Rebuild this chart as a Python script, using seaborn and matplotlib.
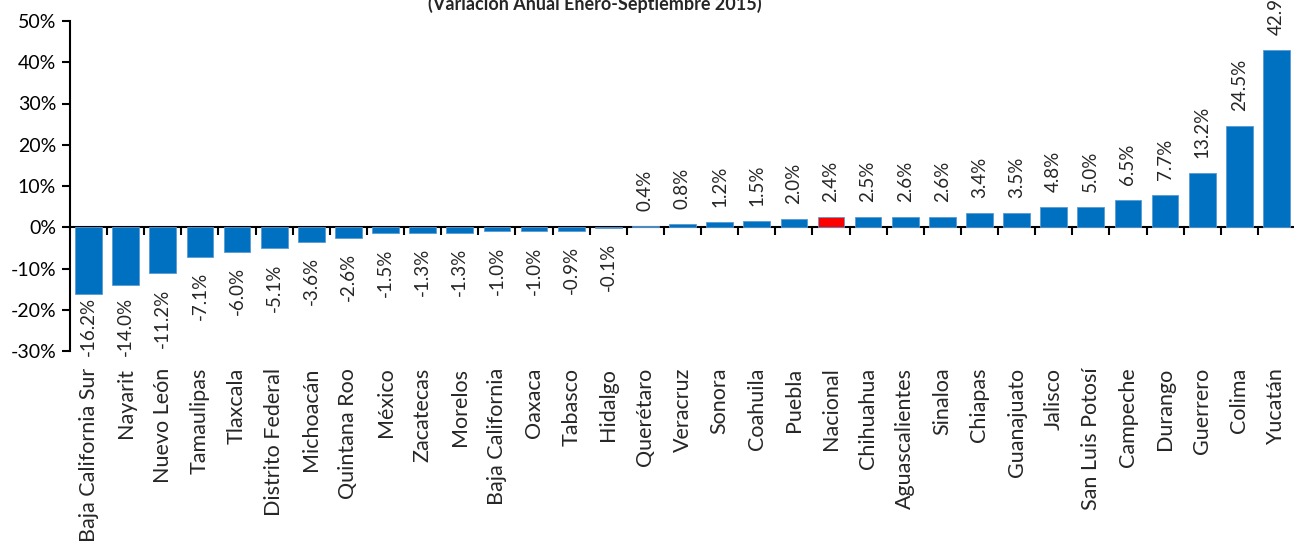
import numpy as np
import pandas as pd
import matplotlib
matplotlib.use("Agg")
import matplotlib.pyplot as plt
import seaborn as sns

# Datos: variación anual de la actividad industrial por entidad (%)
estados = ["Baja California Sur", "Nayarit", "Nuevo León", "Tamaulipas", "Tlaxcala",
           "Distrito Federal", "Michoacán", "Quintana Roo", "México", "Zacatecas",
           "Morelos", "Baja California", "Oaxaca", "Tabasco", "Hidalgo", "Querétaro",
           "Veracruz", "Sonora", "Coahuila", "Puebla", "Nacional", "Chihuahua",
           "Aguascalientes", "Sinaloa", "Chiapas", "Guanajuato", "Jalisco",
           "San Luis Potosí", "Campeche", "Durango", "Guerrero", "Colima", "Yucatán"]
variacion = [-16.2, -14.0, -11.2, -7.1, -6.0, -5.1, -3.6, -2.6, -1.5, -1.3,
             -1.3, -1.0, -1.0, -0.9, -0.1, 0.4, 0.8, 1.2, 1.5, 2.0, 2.4, 2.5,
             2.6, 2.6, 3.4, 3.5, 4.8, 5.0, 6.5, 7.7, 13.2, 24.5, 42.9]
titulo = "(Variación Anual Enero-Septiembre 2015)"
y_ticks = [-30, -20, -10, 0, 10, 20, 30, 40, 50]

AZUL = "#0070C0"
ROJO = "#FF0000"

sns.set_style("white")
plt.rcParams["font.family"] = ["Lato", "DejaVu Sans"]

df = pd.DataFrame({"estado": estados, "var": variacion})
colores = {e: (ROJO if e == "Nacional" else AZUL) for e in estados}

fig = plt.figure(figsize=(12.94, 5.48), dpi=100)
ax = fig.add_axes([70 / 1294, 197 / 548, 1225 / 1294, 330 / 548])

sns.barplot(data=df, x="estado", y="var", hue="estado", palette=colores,
            width=0.72, edgecolor="#5B9BD5", linewidth=0.6, legend=False,
            saturation=1, ax=ax)

ymin, ymax = y_ticks[0], y_ticks[-1]
ax.set_ylim(ymin, ymax)
ax.set_xlim(-0.5, len(estados) - 0.5)
ax.set_yticks(y_ticks)
ax.set_yticklabels([f"{t}%" for t in y_ticks], fontsize=14, color="#000000")
ax.tick_params(axis="y", direction="out", length=6, width=1.5, color="black", pad=4, left=True)

# etiquetas de categoría abajo, sin marca
ax.set_xticks(range(len(estados)))
ax.set_xticklabels(estados, rotation=90, fontsize=15.5, va="top")
ax.tick_params(axis="x", length=0, pad=12)
ax.set_xlabel("")
ax.set_ylabel("")

for s in ["top", "right", "bottom"]:
    ax.spines[s].set_visible(False)
ax.spines["left"].set_color("black")
ax.spines["left"].set_linewidth(1.5)

# eje en cero con marcas entre categorías
frac0 = (0 - ymin) / (ymax - ymin)
sec = ax.secondary_xaxis(frac0)
sec.set_xticks(np.arange(len(estados) - 1) + 0.5)
sec.set_xticklabels([])
sec.tick_params(direction="out", length=6, width=1.5, color="black")
sec.spines["bottom"].set_color("black")
sec.spines["bottom"].set_linewidth(1.5)

# etiquetas de valor
px_per_unit = 330 / (ymax - ymin)
gap = 15 / px_per_unit
largo = 54 / px_per_unit
for i, v in enumerate(variacion):
    if v >= 0:
        ax.text(i, v + gap, f"{v:.1f}%", rotation=90, ha="center", va="bottom",
                fontsize=13.5, clip_on=False)
    else:
        y = max(v - gap, ymin + largo)
        ax.text(i, y, f"{v:.1f}%", rotation=90, ha="center", va="top",
                fontsize=13.5, clip_on=False)

fig.text(595 / 1294, 1 - 13 / 548, titulo, ha="center", va="bottom",
         fontsize=13, fontweight="bold")

fig.savefig("out.png", dpi=100)
